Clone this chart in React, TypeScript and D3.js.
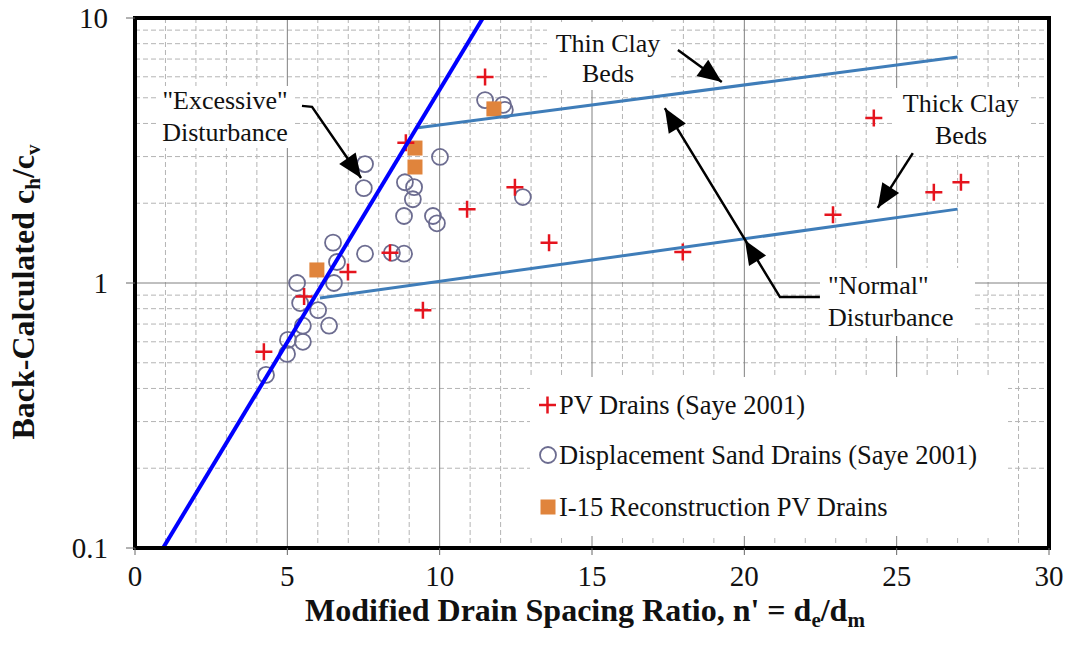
import React from 'react';
import * as d3 from 'd3';

// ---------- data ----------
const xTicks = [0, 5, 10, 15, 20, 25, 30];
const yTicks = [0.1, 1, 10];
const yTickLabels = ['0.1', '1', '10'];

// PV Drains (Saye 2001)
const pvX = [4.23, 5.55, 6.99, 8.37, 9.45, 8.89, 11.49, 10.9, 12.47, 13.59, 17.98, 22.91, 24.25, 26.22, 27.11];
const pvY = [0.55, 0.89, 1.1, 1.3, 0.79, 3.38, 5.99, 1.9, 2.3, 1.42, 1.31, 1.81, 4.19, 2.2, 2.4];

// Displacement Sand Drains (Saye 2001)
const sandX = [11.49, 12.08, 12.14, 7.55, 7.51, 10.01, 8.86, 9.16, 9.12, 8.83, 9.78, 9.91, 6.5, 7.55, 8.43, 8.83, 6.63, 5.32, 6.53, 12.73, 5.42, 6.01, 6.37, 5.51, 5.51, 5.02, 4.99, 4.3];
const sandY = [4.9, 4.7, 4.5, 2.81, 2.28, 2.99, 2.4, 2.3, 2.07, 1.79, 1.79, 1.68, 1.42, 1.29, 1.3, 1.29, 1.2, 1.0, 1.0, 2.11, 0.84, 0.79, 0.69, 0.69, 0.6, 0.61, 0.54, 0.45];

// I-15 Reconstruction PV Drains
const i15X = [5.97, 9.19, 9.19, 11.78];
const i15Y = [1.12, 3.23, 2.74, 4.54];

// guide lines
const excessiveX = [0.92, 11.42];
const excessiveY = [0.1, 10];
const thinClayX = [9.29, 27.0];
const thinClayY = [3.85, 7.13];
const thickClayX = [6.07, 27.0];
const thickClayY = [0.878, 1.9];

const legendLabels = ['PV Drains (Saye 2001)', 'Displacement Sand Drains (Saye 2001)', 'I-15 Reconstruction PV Drains'];

const W = 1069;
const H = 653;
const PL = 135, PR = 1049, PT = 18, PB = 548;
const FONT = '"Liberation Serif", "Times New Roman", Times, serif';
const RED = '#e5141e';
const CIRC = '#6c6c90';
const ORANGE = '#e0843c';
const CLAY = '#3f7db9';

function arrowHead(px: number, py: number, tx: number, ty: number, L = 24, w = 10) {
  const dx = tx - px, dy = ty - py;
  const len = Math.sqrt(dx * dx + dy * dy);
  const ux = dx / len, uy = dy / len;
  const bx = tx - ux * L, by = ty - uy * L;
  const nx = -uy * w, ny = ux * w;
  return `${tx},${ty} ${bx + nx},${by + ny} ${bx - nx},${by - ny}`;
}

export default function App() {
  const x = d3.scaleLinear().domain([0, 30]).range([PL, PR]);
  const y = d3.scaleLog().domain([0.1, 10]).range([PB, PT]);

  const xMinor = d3.range(1, 30).filter((v) => v % 5 !== 0);
  const xMajor = [5, 10, 15, 20, 25];
  const yMinor = [0.2, 0.3, 0.4, 0.5, 0.6, 0.7, 0.8, 0.9, 2, 3, 4, 5, 6, 7, 8, 9];
  const yMajor = [1];

  const line = d3.line<[number, number]>().x((d) => x(d[0])).y((d) => y(d[1]));
  const mk = (xs: number[], ys: number[]) => xs.map((v, i) => [v, ys[i]] as [number, number]);

  // annotation anchors (data space)
  const exA = [x(5.48), y(4.66)], exB = [x(5.81), y(4.62)], exT = [x(7.42), y(2.49)];
  const thA = [x(17.82), y(7.57)], thT = [x(19.26), y(5.74)];
  const tkA = [x(25.53), y(3.09)], tkT = [x(24.38), y(1.92)];
  const nA = [x(22.48), y(0.885)], nB = [x(21.17), y(0.885)], nT = [x(17.39), y(4.57)], nT2 = [x(20.02), y(1.45)];

  const textStyle = { fontFamily: FONT, fontSize: 26, fill: '#111' } as const;

  return (
    <svg width={W} height={H} style={{ position: 'absolute', left: 0, top: 0, background: '#fff' }}>
      <defs>
        <clipPath id="plot">
          <rect x={PL} y={PT} width={PR - PL} height={PB - PT} />
        </clipPath>
      </defs>
      <rect x={0} y={0} width={W} height={H} fill="#fff" />

      {/* grid */}
      <g>
        {xMinor.map((v) => (
          <line key={'xm' + v} x1={x(v)} x2={x(v)} y1={PT} y2={PB} stroke="#b4b4b4" strokeWidth={1} strokeDasharray="5,3" />
        ))}
        {yMinor.map((v) => (
          <line key={'ym' + v} x1={PL} x2={PR} y1={y(v)} y2={y(v)} stroke="#b4b4b4" strokeWidth={1} strokeDasharray="5,3" />
        ))}
        {xMajor.map((v) => (
          <line key={'xM' + v} x1={x(v)} x2={x(v)} y1={PT} y2={PB} stroke="#808080" strokeWidth={1} />
        ))}
        {yMajor.map((v) => (
          <line key={'yM' + v} x1={PL} x2={PR} y1={y(v)} y2={y(v)} stroke="#808080" strokeWidth={1} />
        ))}
      </g>

      {/* white label boxes */}
      <rect x={156} y={86} width={138} height={62} fill="#fff" />
      <rect x={547} y={22} width={121} height={68} fill="#fff" />
      <rect x={893} y={88} width={137} height={67} fill="#fff" />
      <rect x={820} y={268} width={155} height={68} fill="#fff" />
      <rect x={530} y={377} width={478} height={159} fill="#fff" />

      {/* data */}
      <g clipPath="url(#plot)">
        {mk(sandX, sandY).map((d, i) => (
          <circle key={'s' + i} cx={x(d[0])} cy={y(d[1])} r={8} fill="none" stroke={CIRC} strokeWidth={1.8} />
        ))}
        {mk(i15X, i15Y).map((d, i) => (
          <rect key={'q' + i} x={x(d[0]) - 7.5} y={y(d[1]) - 7.5} width={15} height={15} fill={ORANGE} />
        ))}
        {mk(pvX, pvY).map((d, i) => (
          <path key={'p' + i} d={`M${x(d[0]) - 8.5},${y(d[1])}H${x(d[0]) + 8.5}M${x(d[0])},${y(d[1]) - 8.5}V${y(d[1]) + 8.5}`} stroke={RED} strokeWidth={2.5} />
        ))}
        <path d={line(mk(thinClayX, thinClayY)) || ''} stroke={CLAY} strokeWidth={3} fill="none" />
        <path d={line(mk(thickClayX, thickClayY)) || ''} stroke={CLAY} strokeWidth={3} fill="none" />
        <path d={line(mk(excessiveX, excessiveY)) || ''} stroke="#0000ff" strokeWidth={4} fill="none" />
      </g>

      {/* annotations */}
      <g style={textStyle}>
        <text x={225} y={109} textAnchor="middle">"Excessive"</text>
        <text x={225} y={141} textAnchor="middle">Disturbance</text>
        <polyline points={`${exA[0]},${exA[1]} ${exB[0]},${exB[1]} ${exT[0]},${exT[1]}`} fill="none" stroke="#000" strokeWidth={2.5} />
        <polygon points={arrowHead(exB[0], exB[1], exT[0], exT[1])} fill="#000" />

        <text x={608} y={52} textAnchor="middle">Thin Clay</text>
        <text x={608} y={82} textAnchor="middle">Beds</text>
        <line x1={thA[0]} y1={thA[1]} x2={thT[0]} y2={thT[1]} stroke="#000" strokeWidth={2.5} />
        <polygon points={arrowHead(thA[0], thA[1], thT[0], thT[1])} fill="#000" />

        <text x={961} y={112} textAnchor="middle">Thick Clay</text>
        <text x={961} y={144} textAnchor="middle">Beds</text>
        <line x1={tkA[0]} y1={tkA[1]} x2={tkT[0]} y2={tkT[1]} stroke="#000" strokeWidth={2.5} />
        <polygon points={arrowHead(tkA[0], tkA[1], tkT[0], tkT[1])} fill="#000" />

        <text x={828} y={294}>"Normal"</text>
        <text x={828} y={326}>Disturbance</text>
        <polyline points={`${nA[0]},${nA[1]} ${nB[0]},${nB[1]} ${nT[0]},${nT[1]}`} fill="none" stroke="#000" strokeWidth={2.5} />
        <polygon points={arrowHead(nB[0], nB[1], nT[0], nT[1])} fill="#000" />
        <polygon points={arrowHead(nB[0], nB[1], nT2[0], nT2[1])} fill="#000" />
      </g>

      {/* legend */}
      <g style={{ fontFamily: FONT, fontSize: 26.5, fill: '#111' }}>
        <path d="M539,405H556M547.5,396.5V413.5" stroke={RED} strokeWidth={2.5} />
        <text x={559} y={414}>{legendLabels[0]}</text>
        <circle cx={548} cy={455} r={8} fill="none" stroke={CIRC} strokeWidth={1.8} />
        <text x={559} y={464}>{legendLabels[1]}</text>
        <rect x={540.5} y={499.5} width={15} height={15} fill={ORANGE} />
        <text x={559} y={516}>{legendLabels[2]}</text>
      </g>

      {/* frame */}
      <rect x={PL} y={PT} width={PR - PL} height={PB - PT} fill="none" stroke="#000" strokeWidth={4} />

      {/* axes ticks & labels */}
      <g style={{ fontFamily: FONT, fontSize: 29, fill: '#111' }}>
        {xTicks.map((v) => (
          <g key={'xt' + v}>
            <line x1={x(v)} x2={x(v)} y1={PB} y2={PB + 7} stroke="#666" strokeWidth={1} />
            <text x={x(v)} y={586} textAnchor="middle">{v}</text>
          </g>
        ))}
        {yTicks.map((v, i) => (
          <g key={'yt' + v}>
            <line x1={PL - 9} x2={PL} y1={y(v)} y2={y(v)} stroke="#666" strokeWidth={1} />
            <text x={108} y={y(v) + 10} textAnchor="end">{yTickLabels[i]}</text>
          </g>
        ))}
      </g>

      {/* axis titles */}
      <text x={585} y={621} textAnchor="middle" style={{ fontFamily: FONT, fontSize: 32, fontWeight: 'bold', fill: '#111' }}>
        Modified Drain Spacing Ratio, n' = d<tspan fontSize={21} dy={6}>e</tspan><tspan dy={-6}>/d</tspan><tspan fontSize={21} dy={6}>m</tspan>
      </text>
      <text transform="translate(34,292) rotate(-90)" textAnchor="middle" style={{ fontFamily: FONT, fontSize: 32, fontWeight: 'bold', fill: '#111' }}>
        Back-Calculated  c<tspan fontSize={21} dy={6}>h</tspan><tspan dy={-6}>/c</tspan><tspan fontSize={21} dy={6}>v</tspan>
      </text>
    </svg>
  );
}
